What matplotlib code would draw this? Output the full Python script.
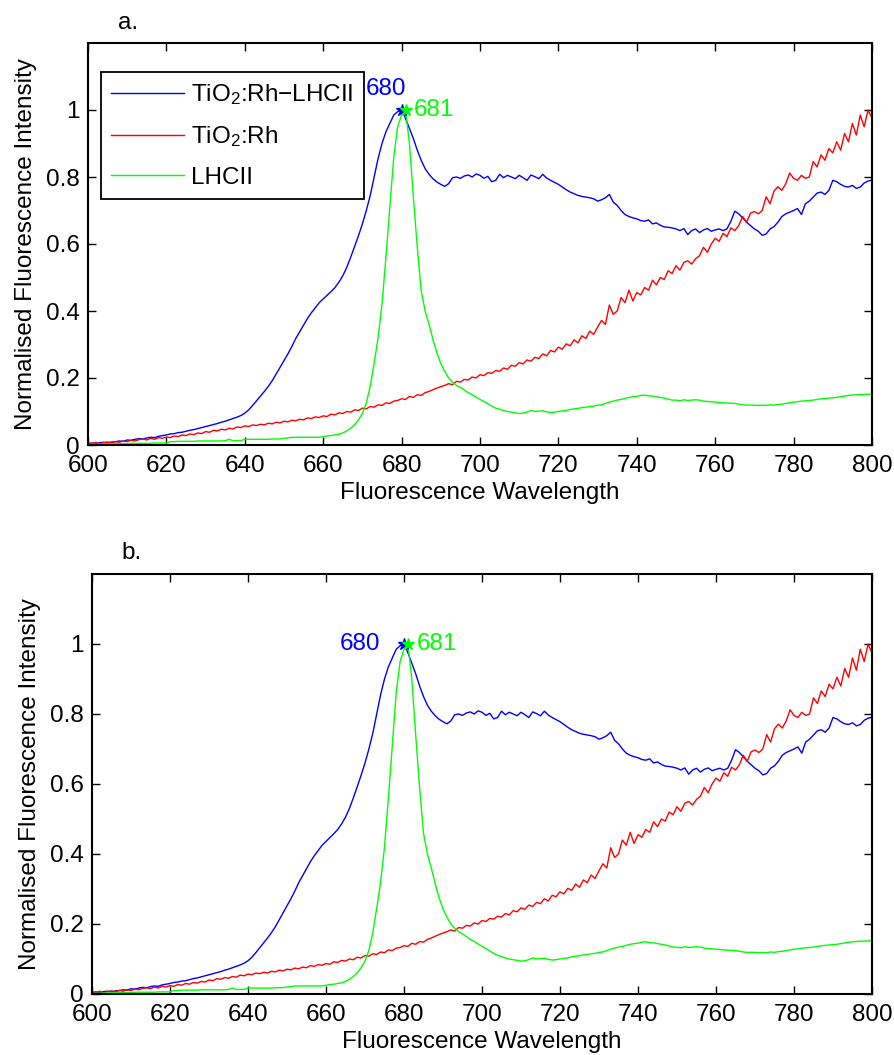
import numpy as np
import matplotlib
matplotlib.use("Agg")
import matplotlib.pyplot as plt

plt.rcParams['font.family'] = ['Liberation Sans', 'DejaVu Sans']
plt.rcParams['mathtext.default'] = 'regular'

# emission wavelength grid, 1 nm steps
wavelength = np.arange(600, 801)

# TiO2:Rh-LHCII spectrum (normalised)
hybrid = [
    0.004, 0.006, 0.003, 0.007, 0.008, 0.006, 0.009, 0.010, 0.012, 0.011,
    0.015, 0.014, 0.017, 0.019, 0.018, 0.021, 0.023, 0.022, 0.026, 0.028,
    0.030, 0.033, 0.034, 0.037, 0.038, 0.041, 0.044, 0.046, 0.049, 0.052,
    0.055, 0.058, 0.061, 0.064, 0.068, 0.071, 0.075, 0.079, 0.083, 0.088,
    0.095, 0.105, 0.118, 0.132, 0.146, 0.160, 0.175, 0.192, 0.212, 0.232,
    0.252, 0.272, 0.294, 0.318, 0.338, 0.358, 0.378, 0.395, 0.410, 0.425,
    0.436, 0.447, 0.458, 0.470, 0.486, 0.505, 0.530, 0.560, 0.592, 0.625,
    0.660, 0.700, 0.745, 0.800, 0.855, 0.900, 0.935, 0.960, 0.985, 0.995,
    1.000,
    0.975, 0.945, 0.915, 0.880, 0.850, 0.825, 0.808, 0.795, 0.785,
    0.778, 0.772, 0.780, 0.798, 0.800, 0.796, 0.803, 0.806, 0.800, 0.809,
    0.805, 0.796, 0.802, 0.786, 0.790, 0.808, 0.798, 0.805, 0.800, 0.795,
    0.805, 0.798, 0.790, 0.806, 0.801, 0.795, 0.808, 0.797, 0.790, 0.784,
    0.778, 0.770, 0.762, 0.755, 0.750, 0.745, 0.742, 0.740, 0.738, 0.735,
    0.728, 0.732, 0.738, 0.748, 0.725, 0.715, 0.700, 0.688, 0.682, 0.678,
    0.675, 0.670, 0.668, 0.672, 0.660, 0.663, 0.656, 0.651, 0.650, 0.648,
    0.645, 0.640, 0.646, 0.628, 0.640, 0.645, 0.634, 0.642, 0.646, 0.638,
    0.642, 0.645, 0.640, 0.645, 0.668, 0.698, 0.690, 0.678, 0.665, 0.655,
    0.645, 0.638, 0.626, 0.630, 0.645, 0.652, 0.665, 0.682, 0.690, 0.695,
    0.700, 0.706, 0.688, 0.720, 0.728, 0.740, 0.752, 0.755, 0.748, 0.760,
    0.790, 0.786, 0.778, 0.772, 0.770, 0.775, 0.766, 0.770, 0.782, 0.788,
    0.791,
]

# TiO2:Rh alone
tio2 = [
    0.006, 0.004, 0.008, 0.003, 0.007, 0.009, 0.006, 0.010, 0.008, 0.012,
    0.010, 0.014, 0.012, 0.016, 0.018, 0.015, 0.020, 0.017, 0.022, 0.020,
    0.024, 0.022, 0.027, 0.025, 0.030, 0.028, 0.033, 0.031, 0.036, 0.034,
    0.040, 0.038, 0.044, 0.042, 0.047, 0.045, 0.050, 0.048, 0.054, 0.052,
    0.057, 0.055, 0.060, 0.058, 0.062, 0.060, 0.065, 0.063, 0.068, 0.066,
    0.071, 0.069, 0.074, 0.072, 0.077, 0.075, 0.081, 0.079, 0.084, 0.082,
    0.087, 0.085, 0.092, 0.090, 0.096, 0.094, 0.100, 0.098, 0.105, 0.103,
    0.110, 0.108, 0.115, 0.113, 0.120, 0.118, 0.126, 0.124, 0.131, 0.133,
    0.138, 0.136, 0.145, 0.142, 0.150, 0.148, 0.156, 0.160, 0.165, 0.170,
    0.174, 0.178, 0.183, 0.180, 0.190, 0.188, 0.196, 0.194, 0.203, 0.200,
    0.210, 0.207, 0.216, 0.214, 0.222, 0.220, 0.230, 0.226, 0.238, 0.235,
    0.246, 0.242, 0.254, 0.250, 0.262, 0.258, 0.272, 0.266, 0.282, 0.278,
    0.292, 0.286, 0.302, 0.296, 0.314, 0.305, 0.326, 0.318, 0.340, 0.330,
    0.352, 0.372, 0.360, 0.418, 0.390, 0.400, 0.440, 0.425, 0.462, 0.430,
    0.455, 0.448, 0.470, 0.462, 0.492, 0.478, 0.500, 0.494, 0.520, 0.512,
    0.535, 0.522, 0.545, 0.550, 0.540, 0.556, 0.565, 0.590, 0.575, 0.600,
    0.617, 0.608, 0.632, 0.622, 0.648, 0.640, 0.655, 0.682, 0.665, 0.692,
    0.697, 0.690, 0.700, 0.741, 0.720, 0.758, 0.771, 0.760, 0.780, 0.812,
    0.796, 0.790, 0.805, 0.796, 0.800, 0.846, 0.830, 0.866, 0.850, 0.885,
    0.872, 0.905, 0.880, 0.930, 0.905, 0.960, 0.925, 0.985, 0.950, 1.000,
    0.975,
]

# isolated LHCII
lhcii = [
    0.001, 0.002, 0.002, 0.003, 0.003, 0.003, 0.004, 0.004, 0.004, 0.004,
    0.004, 0.005, 0.005, 0.005, 0.005, 0.005, 0.005, 0.006, 0.006, 0.006,
    0.006, 0.010, 0.010, 0.011, 0.011, 0.011, 0.011, 0.011, 0.012, 0.012,
    0.012, 0.012, 0.012, 0.012, 0.012, 0.013, 0.017, 0.013, 0.013, 0.013,
    0.017, 0.017, 0.017, 0.017, 0.017, 0.017, 0.017, 0.018, 0.018, 0.018,
    0.020, 0.021, 0.023, 0.023, 0.023, 0.023, 0.023, 0.023, 0.023, 0.023,
    0.025, 0.027, 0.028, 0.030, 0.032, 0.036, 0.042, 0.050, 0.060, 0.075,
    0.094, 0.125, 0.175, 0.245, 0.320, 0.420, 0.560, 0.710, 0.860, 0.950,
    0.985,
    1.000,
    0.900, 0.740, 0.590, 0.460, 0.400, 0.360, 0.315, 0.275,
    0.243, 0.220, 0.200, 0.188, 0.178, 0.172, 0.164, 0.156, 0.150, 0.143,
    0.136, 0.130, 0.123, 0.116, 0.110, 0.107, 0.103, 0.100, 0.098, 0.096,
    0.094, 0.095, 0.098, 0.103, 0.100, 0.101, 0.102, 0.099, 0.097, 0.098,
    0.100, 0.102, 0.103, 0.106, 0.108, 0.109, 0.112, 0.113, 0.115, 0.116,
    0.119, 0.120, 0.124, 0.128, 0.131, 0.134, 0.136, 0.139, 0.142, 0.144,
    0.145, 0.148, 0.149, 0.147, 0.146, 0.144, 0.142, 0.140, 0.137, 0.134,
    0.134, 0.132, 0.135, 0.133, 0.134, 0.135, 0.134, 0.131, 0.130, 0.129,
    0.128, 0.127, 0.126, 0.125, 0.125, 0.124, 0.122, 0.120, 0.119, 0.119,
    0.119, 0.118, 0.119, 0.118, 0.120, 0.119, 0.121, 0.122, 0.124, 0.126,
    0.128, 0.129, 0.131, 0.132, 0.133, 0.134, 0.136, 0.138, 0.139, 0.140,
    0.141, 0.142, 0.144, 0.146, 0.148, 0.149, 0.150, 0.151, 0.151, 0.152,
    0.151,
]

labels = ['TiO$_2$:Rh\u2212LHCII', 'TiO$_2$:Rh', 'LHCII']
colors = ['#0000ff', '#ff0000', '#00ff00']
xticks = np.arange(600, 801, 20)
yticks = [0, 0.2, 0.4, 0.6, 0.8, 1]
yticklabels = ['0', '0.2', '0.4', '0.6', '0.8', '1']

FS = 17.5

fig = plt.figure(figsize=(8.94, 10.55), dpi=100)
ax1 = fig.add_axes([88 / 894, 610 / 1055, 784 / 894, 402 / 1055])
ax2 = fig.add_axes([92 / 894, 61 / 1055, 780 / 894, 420 / 1055])


def draw_panel(ax, tag, peak_labels):
    lines = []
    for series, lab, col in zip([hybrid, tio2, lhcii], labels, colors):
        ln, = ax.plot(wavelength, series, color=col, lw=1.0, label=lab)
        lines.append(ln)
    # mark the emission maxima
    for series, col in [(hybrid, colors[0]), (lhcii, colors[2])]:
        i = int(np.argmax(series))
        ax.plot(wavelength[i], series[i], marker='*', color=col, ms=9, mew=1.0)
    for (x, y, txt, ha, va), col in zip(peak_labels, [colors[0], colors[2]]):
        ax.text(x, y, txt, color=col, fontsize=FS, ha=ha, va=va)

    ax.set_xlim(600, 800)
    ax.set_ylim(0, 1.2)
    ax.set_xticks(xticks)
    ax.set_yticks(yticks)
    ax.set_yticklabels(yticklabels)
    ax.tick_params(direction='in', length=6, width=1.0, labelsize=FS,
                   top=True, right=True)
    ax.tick_params(axis='y', pad=6)
    ax.tick_params(axis='x', pad=7.5)
    for sp in ax.spines.values():
        sp.set_linewidth(1.5)
    ax.set_xlabel('Fluorescence Wavelength', fontsize=FS, labelpad=3)
    ax.set_ylabel('Normalised Fluorescence Intensity', fontsize=FS, labelpad=6)
    ax.text(0.038, 1.035, tag, transform=ax.transAxes, fontsize=FS,
            va='baseline')
    return lines


lines = draw_panel(ax1, 'a.', [(676, 1.03, '680', 'center', 'bottom'),
                               (683, 1.0, '681', 'left', 'center')])
draw_panel(ax2, 'b.', [(674, 1.0, '680', 'right', 'center'),
                       (683.3, 1.0, '681', 'left', 'center')])

leg = ax1.legend(lines, labels, loc='upper left', bbox_to_anchor=(0.0166, 0.928),
                 borderaxespad=0, fontsize=FS, handlelength=3.0,
                 handletextpad=0.3, labelspacing=0.72, borderpad=0.42,
                 fancybox=False, framealpha=1)
leg.get_frame().set_edgecolor('black')
leg.get_frame().set_linewidth(1.3)

fig.savefig('out.png', dpi=100)
